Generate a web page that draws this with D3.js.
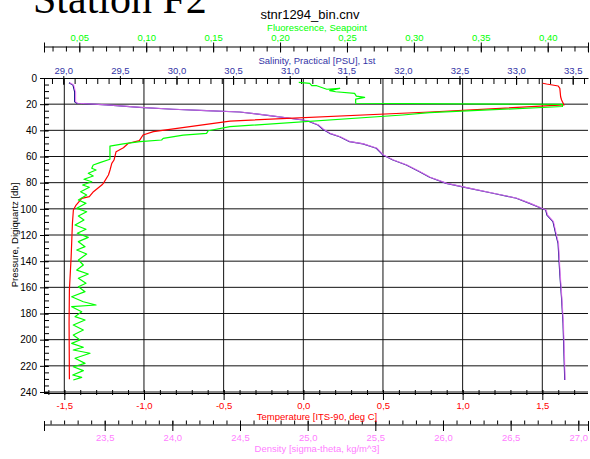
<!DOCTYPE html>
<html>
<head>
<meta charset="utf-8">
<script src="https://cdn.jsdelivr.net/npm/d3@7"></script>
<style>
	body { margin: 0; background: white; }
	svg { display: block; font-family: "Liberation Sans", Arial, sans-serif; }
</style>
</head>
<body>
<svg id="profile" width="590" height="459" viewBox="0 0 590 459"></svg>
<script>

// tick labels
const pressure_ticks = [0, 20, 40, 60, 80, 100, 120, 140, 160, 180, 200, 220, 240];
const fluo_ticks = [0.05, 0.10, 0.15, 0.20, 0.25, 0.30, 0.35, 0.40];
const sal_ticks = [29.0, 29.5, 30.0, 30.5, 31.0, 31.5, 32.0, 32.5, 33.0, 33.5];
const temp_ticks = [-1.5, -1.0, -0.5, 0.0, 0.5, 1.0, 1.5];
const dens_ticks = [23.5, 24.0, 24.5, 25.0, 25.5, 26.0, 26.5, 27.0];

// temperature profile
const temp_pressure = [4.0, 4.6, 6.1, 7.9, 14.3, 16.8, 20.6, 26.0, 32.9, 41.0, 43.6, 47.9, 49.9, 53.3, 56.3, 62.7, 65.2, 70.3, 74.1, 80.5, 81.8, 86.9, 90.7, 92.0, 97.1, 100.9, 111.0, 136.6, 162.0, 187.3, 230.3];
const temp_values = [1.502, 1.527, 1.600, 1.610, 1.615, 1.621, 1.636, 0.795, -0.460, -0.941, -1.006, -1.029, -1.098, -1.129, -1.175, -1.188, -1.202, -1.213, -1.223, -1.255, -1.265, -1.317, -1.343, -1.390, -1.426, -1.443, -1.449, -1.457, -1.468, -1.470, -1.468];

// salinity and density share the same scan depths
const sal_pressure = [3.6, 5.4, 10.7, 18.1, 19.3, 20.6, 22.4, 23.9, 25.0, 26.0, 28.7, 32.1, 33.4, 35.9, 39.2, 42.3, 44.9, 48.7, 50.4, 53.7, 58.9, 62.7, 66.5, 71.6, 75.9, 80.5, 84.3, 88.1, 91.9, 95.8, 99.6, 100.9, 104.7, 109.8, 121.3, 126.3, 149.3, 167.2, 187.5, 213.0, 230.8];
const sal_values = [29.050, 29.086, 29.101, 29.101, 29.121, 29.381, 29.675, 29.969, 30.264, 30.558, 30.823, 31.117, 31.177, 31.250, 31.294, 31.353, 31.442, 31.530, 31.648, 31.766, 31.825, 31.913, 32.031, 32.148, 32.237, 32.384, 32.590, 32.796, 33.003, 33.120, 33.224, 33.262, 33.273, 33.326, 33.356, 33.371, 33.386, 33.401, 33.415, 33.424, 33.430];
const dens_values = [23.242, 23.272, 23.285, 23.285, 23.302, 23.519, 23.765, 24.011, 24.257, 24.503, 24.725, 24.968, 25.020, 25.081, 25.118, 25.168, 25.242, 25.315, 25.414, 25.513, 25.561, 25.635, 25.734, 25.832, 25.906, 26.030, 26.202, 26.374, 26.547, 26.646, 26.731, 26.763, 26.773, 26.817, 26.842, 26.854, 26.866, 26.878, 26.890, 26.898, 26.903];

// fluorescence profile
const fluo_pressure = [3.3, 4.1, 5.9, 5.9, 8.6, 7.9, 9.7, 10.5, 11.7, 13.8, 14.8, 16.1, 19.3, 20.1, 21.8, 26.5, 28.3, 37.2, 40.3, 42.3, 43.6, 46.1, 47.4, 48.7, 50.4, 52.0, 62.1, 64.7, 66.5, 69.0, 70.3, 72.8, 74.9, 77.4, 79.3, 81.8, 83.5, 86.9, 89.4, 93.2, 95.8, 99.6, 102.2, 105.5, 108.5, 112.4, 115.6, 118.7, 121.8, 125.1, 128.9, 131.5, 134.5, 139.1, 142.9, 146.8, 149.8, 153.1, 156.9, 159.5, 163.3, 167.2, 171.0, 173.5, 174.8, 178.6, 182.4, 185.0, 188.8, 192.6, 196.4, 200.3, 202.8, 205.8, 207.9, 210.4, 214.2, 218.1, 220.7, 223.7, 227.0, 228.8, 230.8];
const fluo_values = [0.2140, 0.2222, 0.2237, 0.2274, 0.2349, 0.2446, 0.2371, 0.2416, 0.2557, 0.2570, 0.2632, 0.2565, 0.2565, 0.4110, 0.4110, 0.3117, 0.2916, 0.1625, 0.1463, 0.1451, 0.1276, 0.1127, 0.1115, 0.0953, 0.0828, 0.0729, 0.0729, 0.0654, 0.0604, 0.0593, 0.0625, 0.0567, 0.0604, 0.0535, 0.0593, 0.0525, 0.0575, 0.0510, 0.0555, 0.0493, 0.0550, 0.0481, 0.0555, 0.0493, 0.0535, 0.0468, 0.0550, 0.0485, 0.0567, 0.0493, 0.0543, 0.0481, 0.0555, 0.0493, 0.0530, 0.0481, 0.0567, 0.0493, 0.0550, 0.0493, 0.0543, 0.0443, 0.0530, 0.0625, 0.0443, 0.0518, 0.0468, 0.0543, 0.0455, 0.0530, 0.0455, 0.0505, 0.0443, 0.0530, 0.0455, 0.0580, 0.0468, 0.0543, 0.0455, 0.0530, 0.0451, 0.0518, 0.0455];

const TEMP_COLOR = "#ff0000";
const FLUO_COLOR = "#00ff00";
const SAL_COLOR = "#000080";
const SAL_TEXT = "#3434a6";
const DENS_COLOR = "#ff80ff";

const locale = d3.formatLocale({decimal: ",", thousands: ".", grouping: [3], currency: ["", ""], minus: "-"});
const fmt1 = locale.format(".1f");
const fmt2 = locale.format(".2f");

class ProfilePlot {

	// ticks every `step` inside the scale's domain, no labels
	minorTicks(scale, step) {
		const [d0, d1] = scale.domain();
		const first = Math.ceil(d0 / step - 1e-6);
		const last = Math.floor(d1 / step + 1e-6);
		return d3.range(first, last + 1).map((i) => +(i * step).toFixed(4));
	}

	styleText(g, color, size) {
		g.selectAll('text')
			.attr('fill', color)
			.style('font-size', size)
			.style('font-family', '"Liberation Sans", Arial, sans-serif');
		g.selectAll('line').attr('stroke', '#000');
		g.selectAll('.domain').attr('stroke', '#000');
	}

	constructor(svg_element_id) {
		this.svg = d3.select('#' + svg_element_id);
		const left = 44, right = 588, top = 78, bottom = 392;

		const y_scale = d3.scaleLinear().domain([0, 240]).range([top, bottom]);
		const temp_scale = d3.scaleLinear().domain([-1.6274, 1.7868]).range([left, right]);
		const sal_scale = d3.scaleLinear().domain([28.8295, 33.6352]).range([left, right]);
		const fluo_scale = d3.scaleLinear().domain([0.02362, 0.43011]).range([left, right]);
		const dens_scale = d3.scaleLinear().domain([23.0514, 27.0717]).range([left, right]);

		// grid
		const grid = this.svg.append('g')
			.attr('stroke', '#111')
			.attr('stroke-width', 1);
		grid.selectAll('.hgrid')
			.data(pressure_ticks.slice(1))
			.enter().append('line')
			.attr('x1', left).attr('x2', right)
			.attr('y1', (d) => y_scale(d)).attr('y2', (d) => y_scale(d));
		grid.selectAll('.vgrid')
			.data(temp_ticks)
			.enter().append('line')
			.attr('x1', (d) => temp_scale(d)).attr('x2', (d) => temp_scale(d))
			.attr('y1', top).attr('y2', bottom);

		// pressure axis (left)
		this.svg.append('g')
			.attr('transform', 'translate(' + left + ',0)')
			.call(d3.axisRight(y_scale).tickValues(this.minorTicks(y_scale, 5)).tickSize(5).tickSizeOuter(0).tickFormat(''))
			.call((g) => this.styleText(g, '#000', '10px'));
		this.svg.append('g')
			.attr('transform', 'translate(' + (left + 4) + ',0)')
			.call(d3.axisLeft(y_scale).tickValues(pressure_ticks).tickSize(8).tickPadding(3).tickFormat(d3.format('d')))
			.call((g) => g.select('.domain').remove())
			.call((g) => this.styleText(g, '#000', '10px'));

		// temperature axis (bottom)
		this.svg.append('g')
			.attr('transform', 'translate(0,' + (bottom - 2) + ')')
			.call(d3.axisBottom(temp_scale).tickValues(this.minorTicks(temp_scale, 0.1)).tickSize(5).tickFormat(''))
			.call((g) => g.select('.domain').remove())
			.call((g) => this.styleText(g, '#000', '9.5px'));
		this.svg.append('g')
			.attr('transform', 'translate(0,' + (bottom - 2) + ')')
			.call(d3.axisBottom(temp_scale).tickValues(temp_ticks).tickSize(10).tickPadding(2).tickFormat(fmt1))
			.call((g) => g.select('.domain').remove())
			.call((g) => this.styleText(g, TEMP_COLOR, '9.5px'));
		this.svg.append('line')
			.attr('x1', left).attr('x2', right)
			.attr('y1', bottom + 1.5).attr('y2', bottom + 1.5)
			.attr('stroke', '#000');

		// density axis
		const dens_y = 424.5;
		const dens_ends = dens_scale.domain();
		this.svg.append('g')
			.attr('transform', 'translate(0,' + dens_y + ')')
			.call(d3.axisTop(dens_scale).tickValues(this.minorTicks(dens_scale, 0.1)).tickSize(4).tickSizeOuter(0).tickFormat(''))
			.call((g) => this.styleText(g, '#000', '9.5px'));
		this.svg.append('g')
			.attr('transform', 'translate(0,' + (dens_y - 3.5) + ')')
			.call(d3.axisBottom(dens_scale).tickValues(dens_ticks.concat(dens_ends)).tickSize(10).tickPadding(3)
				.tickFormat((d) => dens_ends.includes(d) ? '' : fmt1(d)))
			.call((g) => g.select('.domain').remove())
			.call((g) => this.styleText(g, DENS_COLOR, '9.5px'));

		// fluorescence axis (top)
		const fluo_y = 46.5;
		const fluo_ends = fluo_scale.domain();
		this.svg.append('g')
			.attr('transform', 'translate(0,' + fluo_y + ')')
			.call(d3.axisBottom(fluo_scale).tickValues(this.minorTicks(fluo_scale, 0.01)).tickSize(5).tickSizeOuter(0).tickFormat(''))
			.call((g) => this.styleText(g, '#000', '9.5px'));
		this.svg.append('g')
			.attr('transform', 'translate(0,' + (fluo_y + 6) + ')')
			.call(d3.axisTop(fluo_scale).tickValues(fluo_ticks.concat(fluo_ends)).tickSize(10).tickPadding(2)
				.tickFormat((d) => fluo_ends.includes(d) ? '' : fmt2(d)))
			.call((g) => g.select('.domain').remove())
			.call((g) => this.styleText(g, FLUO_COLOR, '9.5px'));

		// salinity axis (plot top)
		this.svg.append('g')
			.attr('transform', 'translate(0,' + top + ')')
			.call(d3.axisBottom(sal_scale).tickValues(this.minorTicks(sal_scale, 0.1)).tickSize(6).tickSizeOuter(0).tickFormat(''))
			.call((g) => this.styleText(g, '#000', '9.5px'));
		this.svg.append('g')
			.attr('transform', 'translate(0,' + (top + 7) + ')')
			.call(d3.axisTop(sal_scale).tickValues(sal_ticks).tickSize(9).tickPadding(2).tickFormat(fmt1))
			.call((g) => g.select('.domain').remove())
			.call((g) => this.styleText(g, SAL_TEXT, '9.5px'));

		// profiles
		const line_of = (scale) => d3.line()
			.x((d) => scale(d[1]))
			.y((d) => y_scale(d[0]));

		const profiles = [
			{pts: d3.zip(sal_pressure, sal_values), scale: sal_scale, color: SAL_COLOR, width: 1.2, opacity: 1},
			{pts: d3.zip(sal_pressure, dens_values), scale: dens_scale, color: DENS_COLOR, width: 1.2, opacity: 0.75},
			{pts: d3.zip(temp_pressure, temp_values), scale: temp_scale, color: TEMP_COLOR, width: 1.2, opacity: 1},
			{pts: d3.zip(fluo_pressure, fluo_values), scale: fluo_scale, color: FLUO_COLOR, width: 1.2, opacity: 1}
		];

		this.svg.append('g').selectAll('.profile')
			.data(profiles)
			.enter().append('path')
			.classed('profile', true)
			.attr('d', (d) => line_of(d.scale)(d.pts))
			.attr('fill', 'none')
			.attr('stroke', (d) => d.color)
			.attr('stroke-width', (d) => d.width)
			.attr('stroke-opacity', (d) => d.opacity)
			.attr('stroke-linejoin', 'round');

		// titles
		const title_x = 317;
		const texts = [
			{t: 'Fluorescence, Seapoint', x: title_x, y: 31, color: FLUO_COLOR},
			{t: 'Salinity, Practical [PSU], 1st', x: title_x, y: 64, color: SAL_TEXT},
			{t: 'Temperature [ITS-90, deg C]', x: title_x, y: 419.5, color: TEMP_COLOR},
			{t: 'Density [sigma-theta, kg/m^3]', x: title_x, y: 452, color: DENS_COLOR}
		];
		this.svg.selectAll('.axis-title')
			.data(texts)
			.enter().append('text')
			.classed('axis-title', true)
			.attr('x', (d) => d.x).attr('y', (d) => d.y)
			.attr('text-anchor', 'middle')
			.attr('fill', (d) => d.color)
			.style('font-size', '9.5px')
			.text((d) => d.t);

		this.svg.append('text')
			.attr('transform', 'translate(18,' + ((top + bottom) / 2) + ') rotate(-90)')
			.attr('text-anchor', 'middle')
			.style('font-size', '9.5px')
			.text('Pressure, Digiquartz [db]');

		this.svg.append('text')
			.attr('x', 310).attr('y', 18.5)
			.attr('text-anchor', 'middle')
			.style('font-size', '13px')
			.text('stnr1294_bin.cnv');

		this.svg.append('text')
			.attr('x', 33).attr('y', 12.7)
			.style('font-family', '"Liberation Serif", "Times New Roman", serif')
			.style('font-size', '42px')
			.text('Station F2');
	}
}

function whenDocumentLoaded(action) {
	if (document.readyState === "loading") {
		document.addEventListener("DOMContentLoaded", action);
	} else {
		action();
	}
}

whenDocumentLoaded(() => {
	plot_object = new ProfilePlot('profile');
});
</script>
</body>
</html>
